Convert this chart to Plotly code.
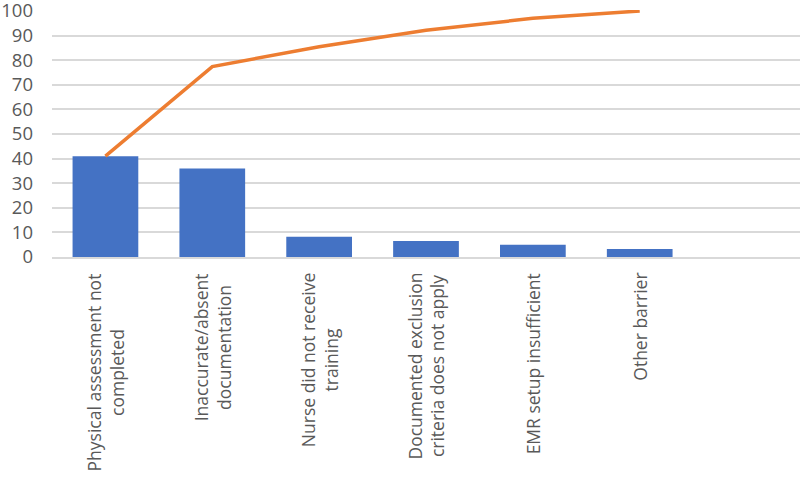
import plotly.graph_objects as go

# barrier categories (last slot is empty in the source chart)
categories = [
    "Physical assessment not<br>completed",
    "Inaccurate/absent<br>documentation",
    "Nurse did not receive<br>training",
    "Documented exclusion<br>criteria does not apply",
    "EMR setup insufficient",
    "Other barrier",
    " ",
]
barrier_pct = [41, 36, 8.2, 6.5, 5.0, 3.3]
cumulative_pct = [41, 77.4, 85.5, 92.2, 97.0, 100]
y_ticks = [0, 10, 20, 30, 40, 50, 60, 70, 80, 90, 100]

x_pos = list(range(len(categories)))

fig = go.Figure()

fig.add_trace(
    go.Bar(
        x=x_pos[: len(barrier_pct)],
        y=barrier_pct,
        marker=dict(color="#4472C4", line=dict(width=0)),
        width=0.615,
        showlegend=False,
    )
)

fig.add_trace(
    go.Scatter(
        x=x_pos[: len(cumulative_pct)],
        y=cumulative_pct,
        mode="lines",
        line=dict(color="#ED7D31", width=3.5),
        cliponaxis=False,
        showlegend=False,
    )
)

# category labels, rotated and centred under each slot
for i, label in enumerate(categories):
    fig.add_annotation(
        x=i,
        y=0,
        xref="x",
        yref="paper",
        text=label,
        textangle=-90,
        showarrow=False,
        xanchor="center",
        yanchor="top",
        yshift=-14,
        align="center",
        font=dict(family="Open Sans", size=17.5, color="#595959"),
    )

fig.update_layout(
    width=800,
    height=484,
    margin=dict(l=52, r=0, t=10, b=227),
    plot_bgcolor="white",
    paper_bgcolor="white",
)

fig.update_xaxes(
    range=[-0.5, len(categories) - 0.5],
    showticklabels=False,
    showgrid=False,
    showline=True,
    linecolor="#D9D9D9",
    linewidth=1.5,
    zeroline=False,
    automargin=False,
)

fig.update_yaxes(
    range=[0, 100.4],
    tickvals=y_ticks,
    showgrid=True,
    gridcolor="#D9D9D9",
    gridwidth=1.5,
    zeroline=False,
    showline=False,
    automargin=False,
    ticklabeloverflow="allow",
    ticklabelstandoff=18,
    tickfont=dict(family="Open Sans", size=18.5, color="#595959"),
)

# drop the default body margin so the figure fills the window
fig.write_html(
    "out.html",
    config={"displayModeBar": False},
    post_script="document.body.style.margin='0';",
)
